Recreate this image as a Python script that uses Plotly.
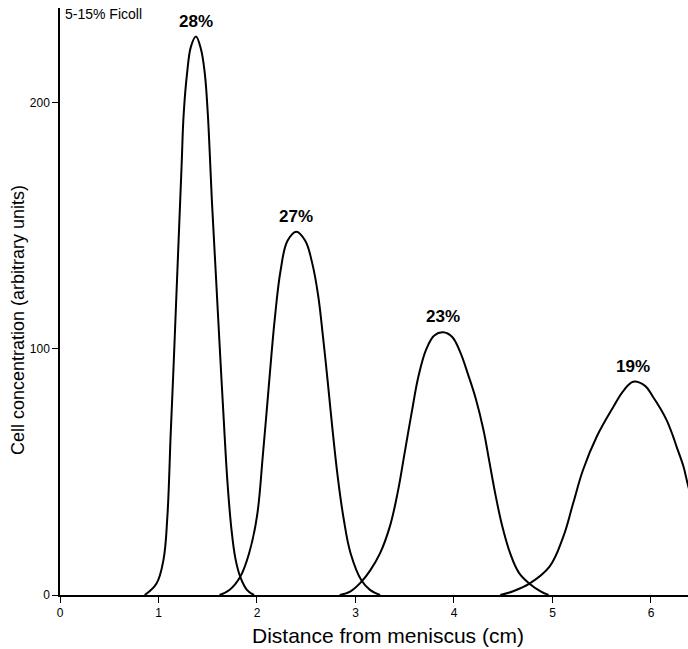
import plotly.graph_objects as go

# Peak profiles (x in cm, y in arbitrary units)
p28_x = [0.86, 0.98, 1.05, 1.09, 1.124, 1.15, 1.18, 1.21, 1.235, 1.255, 1.29, 1.33, 1.38, 1.43, 1.47, 1.50, 1.52, 1.54, 1.58, 1.62, 1.66, 1.70, 1.74, 1.78, 1.83, 1.90, 1.97]
p28_y = [0, 4.7, 14.2, 31.8, 65.7, 90, 120, 150, 175, 195, 212, 223, 227, 222, 212, 196, 180, 162, 132, 102, 73, 46, 27, 15, 7.4, 2, 0]

p27_x = [1.62, 1.72, 1.83, 1.92, 2.00, 2.06, 2.12, 2.18, 2.24, 2.31, 2.40, 2.49, 2.56, 2.62, 2.67, 2.72, 2.77, 2.82, 2.88, 2.95, 3.06, 3.15, 3.25]
p27_y = [0, 2, 7.4, 17, 32, 57, 85, 112, 132, 144, 147.7, 144, 135, 122, 105, 86, 66, 48, 31, 17, 6, 2, 0]

p23_x = [2.84, 2.95, 3.06, 3.15, 3.25, 3.35, 3.43, 3.50, 3.57, 3.64, 3.72, 3.80, 3.89, 3.98, 4.06, 4.14, 4.22, 4.30, 4.36, 4.42, 4.49, 4.57, 4.66, 4.77, 4.88, 4.96]
p23_y = [0, 1.5, 5.4, 10, 17, 28, 42, 58, 74, 89, 100, 105.5, 106.8, 105, 99, 90, 80, 67, 54, 41, 28, 17, 9, 4.5, 1.5, 0]

p19_x = [4.47, 4.60, 4.77, 4.97, 5.11, 5.21, 5.31, 5.45, 5.62, 5.72, 5.82, 5.94, 6.02, 6.10, 6.16, 6.22, 6.26, 6.33, 6.38, 6.45]
p19_y = [0, 1.5, 4.7, 11.5, 23.7, 37.3, 50.8, 64.4, 76.6, 83, 86.7, 85, 80.6, 75.5, 71, 65, 60.3, 52.2, 44, 35]

peak_labels = ["28%", "27%", "23%", "19%"]
peak_pos_x = [1.38, 2.40, 3.89, 5.82]
peak_pos_y = [227, 147.7, 106.8, 86.7]

x_ticks = [0, 1, 2, 3, 4, 5, 6]
y_ticks = [0, 100, 200]

FONT = "Liberation Sans"

fig = go.Figure()
for xs, ys in [(p28_x, p28_y), (p27_x, p27_y), (p23_x, p23_y), (p19_x, p19_y)]:
    fig.add_trace(go.Scatter(x=xs, y=ys, mode="lines",
                             line=dict(color="black", width=2, shape="spline", smoothing=1.1),
                             showlegend=False, hoverinfo="skip"))

for lab, px, py in zip(peak_labels, peak_pos_x, peak_pos_y):
    fig.add_annotation(x=px, y=py, text=lab, showarrow=False, xref="x", yref="y",
                       yanchor="bottom", yshift=4,
                       font=dict(family=FONT, size=17, color="black", weight="bold"))

fig.add_annotation(x=0.005, y=1.0, xref="paper", yref="paper", text="5-15% Ficoll",
                   showarrow=False, xanchor="left", yanchor="top", yshift=4,
                   font=dict(family=FONT, size=14, color="black"))

# axis titles placed as annotations
fig.add_annotation(x=(388 - 60) / 628, y=-40 / 587, xref="paper", yref="paper",
                   text="Distance from meniscus (cm)", showarrow=False,
                   xanchor="center", yanchor="middle",
                   font=dict(family=FONT, size=21, color="black"))
fig.add_annotation(x=-42 / 628, y=(595 - 320) / 587, xref="paper", yref="paper",
                   text="Cell concentration (arbitrary units)", showarrow=False,
                   textangle=-90, xanchor="center", yanchor="middle",
                   font=dict(family=FONT, size=18, color="black"))

fig.update_layout(
    width=688, height=649,
    margin=dict(l=60, r=0, t=8, b=54),
    paper_bgcolor="white", plot_bgcolor="white",
    font=dict(family=FONT, color="black"),
    xaxis=dict(range=[0, 6.376], tickvals=x_ticks, ticks="outside", ticklen=6, tickwidth=1.2,
               tickcolor="black", showline=True, linecolor="black", linewidth=1.5,
               showgrid=False, zeroline=False, tickfont=dict(size=12)),
    yaxis=dict(range=[0, 238.6], tickvals=y_ticks, ticks="outside", ticklen=6, tickwidth=1.2,
               tickcolor="black", showline=True, linecolor="black", linewidth=1.5,
               showgrid=False, zeroline=False, tickfont=dict(size=12)),
)

fig.write_html("out.html")
